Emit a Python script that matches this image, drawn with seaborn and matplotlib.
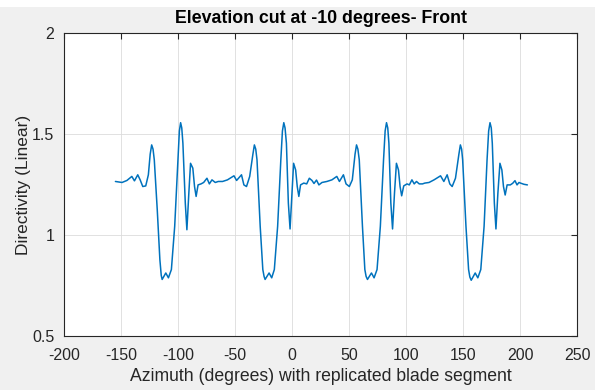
import numpy as np
import pandas as pd
import matplotlib
matplotlib.use("Agg")
import matplotlib.pyplot as plt
import seaborn as sns
from matplotlib.patches import Rectangle

# ---- data ----
azimuth = [
    -154.9, -149.1, -144.8, -140.5, -138.2, -135.3, -133.2, -130.9, -128.3, -126.0,
    -124.4, -123.1, -121.9, -120.8, -118.2, -115.9, -114.7, -113.9, -110.7, -108.4,
    -105.8, -102.9, -100.0, -98.8, -97.7, -96.7, -95.7, -93.6, -92.2, -90.5,
    -89.0, -87.0, -85.5, -84.1, -82.4, -79.8, -77.5, -74.6, -72.5, -70.2, -67.3,
    -64.7, -60.9, -56.6, -50.9, -48.6, -44.3, -42.2, -39.9, -37.1, -34.3,
    -33.0, -31.8, -30.7, -27.9, -25.6, -24.5, -23.6, -20.1, -17.8, -15.5,
    -12.6, -9.8, -8.4, -7.2, -6.1, -4.9, -3.2, -1.7, 0.0, 1.4,
    3.2, 4.6, 6.0, 7.5, 10.3, 12.9, 15.2,
    17.5, 19.3, 21.5, 23.6, 26.3, 30.6, 35.0, 39.3, 41.6, 45.1,
    47.4, 50.3, 52.9, 55.3, 56.6, 57.8, 59.0, 61.8, 63.9, 65.0,
    66.2, 69.7, 72.0, 74.6, 77.5, 80.3, 81.7, 82.9, 84.0, 85.0,
    86.7, 88.2, 89.9, 91.6, 93.4, 94.8, 96.2, 98.0, 100.9, 102.9,
    105.2, 107.2, 109.2, 111.6,
    114.5, 116.5, 120.2, 124.6, 130.3, 133.2, 136.1, 138.4, 140.5, 143.4,
    146.4, 147.7, 148.8, 149.7, 152.6, 154.9, 156.0, 157.2, 160.7, 163.0,
    165.6, 168.5, 171.1, 172.5, 173.7, 174.8, 175.7, 177.5, 178.9, 180.6,
    182.4, 184.1, 185.5, 187.0, 188.7, 191.5, 193.6, 195.6, 197.4, 199.1,
    200.9, 203.5, 206.5,
]
directivity = [
    1.265, 1.260, 1.270, 1.290, 1.268, 1.298, 1.273, 1.240, 1.243, 1.298,
    1.400, 1.446, 1.425, 1.372, 1.125, 0.878, 0.800, 0.780, 0.812, 0.788,
    0.829, 1.043, 1.372, 1.515, 1.556, 1.530, 1.454, 1.158, 1.026, 1.207,
    1.355, 1.331, 1.240, 1.191, 1.248, 1.253, 1.260, 1.281, 1.253, 1.273, 1.260,
    1.265, 1.265, 1.273, 1.293, 1.270, 1.298, 1.248, 1.240, 1.290, 1.400,
    1.446, 1.425, 1.372, 1.043, 0.829, 0.795, 0.780, 0.812, 0.788, 0.829,
    1.043, 1.372, 1.515, 1.556, 1.530, 1.454, 1.158, 1.030, 1.207, 1.355,
    1.322, 1.240, 1.191, 1.248, 1.257, 1.253, 1.281,
    1.270, 1.255, 1.272, 1.248, 1.260, 1.265, 1.273, 1.290, 1.265, 1.298,
    1.253, 1.240, 1.273, 1.400, 1.446, 1.425, 1.372, 1.043, 0.829, 0.795,
    0.780, 0.812, 0.788, 0.829, 1.043, 1.372, 1.515, 1.556, 1.530, 1.454,
    1.158, 1.030, 1.207, 1.355, 1.322, 1.240, 1.194, 1.243, 1.253, 1.248,
    1.273, 1.253, 1.265, 1.253,
    1.253, 1.257, 1.260, 1.273, 1.293, 1.265, 1.298, 1.253, 1.240, 1.281,
    1.400, 1.446, 1.425, 1.372, 1.043, 0.829, 0.792, 0.776, 0.812, 0.788,
    0.829, 1.043, 1.372, 1.515, 1.556, 1.530, 1.454, 1.158, 1.030, 1.207,
    1.355, 1.322, 1.240, 1.198, 1.248, 1.248, 1.256, 1.269, 1.248, 1.260,
    1.256, 1.251, 1.248,
]
x_ticks = [-200, -150, -100, -50, 0, 50, 100, 150, 200, 250]
y_ticks = [0.5, 1, 1.5, 2]
title = "Elevation cut at -10 degrees- Front"
x_label = "Azimuth (degrees) with replicated blade segment"
y_label = "Directivity (Linear)"

df = pd.DataFrame({"az": azimuth, "d": directivity})

sns.set_theme(style="white")
plt.rcParams["font.family"] = ["Liberation Sans", "DejaVu Sans"]

W, H = 595, 390
fig = plt.figure(figsize=(W / 100, H / 100), dpi=100)
fig.patch.set_facecolor("#f0f0f0")
fig.patches.append(Rectangle((0, 1 - 7 / H), 1, 7 / H, transform=fig.transFigure,
                             facecolor="white", edgecolor="none", zorder=-1))
ax = fig.add_axes([64 / W, 1 - 336 / H, (577 - 64) / W, (336 - 33) / H])
ax.set_facecolor("white")

sns.lineplot(data=df, x="az", y="d", ax=ax, color="#0072BD", linewidth=1.1,
             sort=False, estimator=None)
for ln in ax.get_lines():
    ln.set_solid_joinstyle("round")

ax.set_xlim(-200, 250)
ax.set_ylim(0.5, 2)
ax.set_xticks(x_ticks)
ax.set_yticks(y_ticks)
ax.set_xticklabels([str(v) for v in x_ticks])
ax.set_yticklabels(["0.5", "1", "1.5", "2"])
ax.grid(True, color="#dcdcdc", linewidth=0.6)
ax.set_axisbelow(True)
for s in ax.spines.values():
    s.set_visible(True)
    s.set_color("#262626")
    s.set_linewidth(0.8)
ax.tick_params(direction="in", length=4, width=0.8, color="#262626",
               top=True, right=True, labelsize=11.5, labelcolor="#262626")
ax.tick_params(axis="x", pad=9)
ax.tick_params(axis="y", pad=7)

ax.set_title(title, fontsize=12.8, fontweight="bold", color="black", pad=7)
ax.set_xlabel(x_label, fontsize=12.7, color="#262626", labelpad=3)
ax.set_ylabel(y_label, fontsize=12.5, color="#262626", labelpad=1)

fig.savefig("out.png", dpi=100, facecolor=fig.get_facecolor())
